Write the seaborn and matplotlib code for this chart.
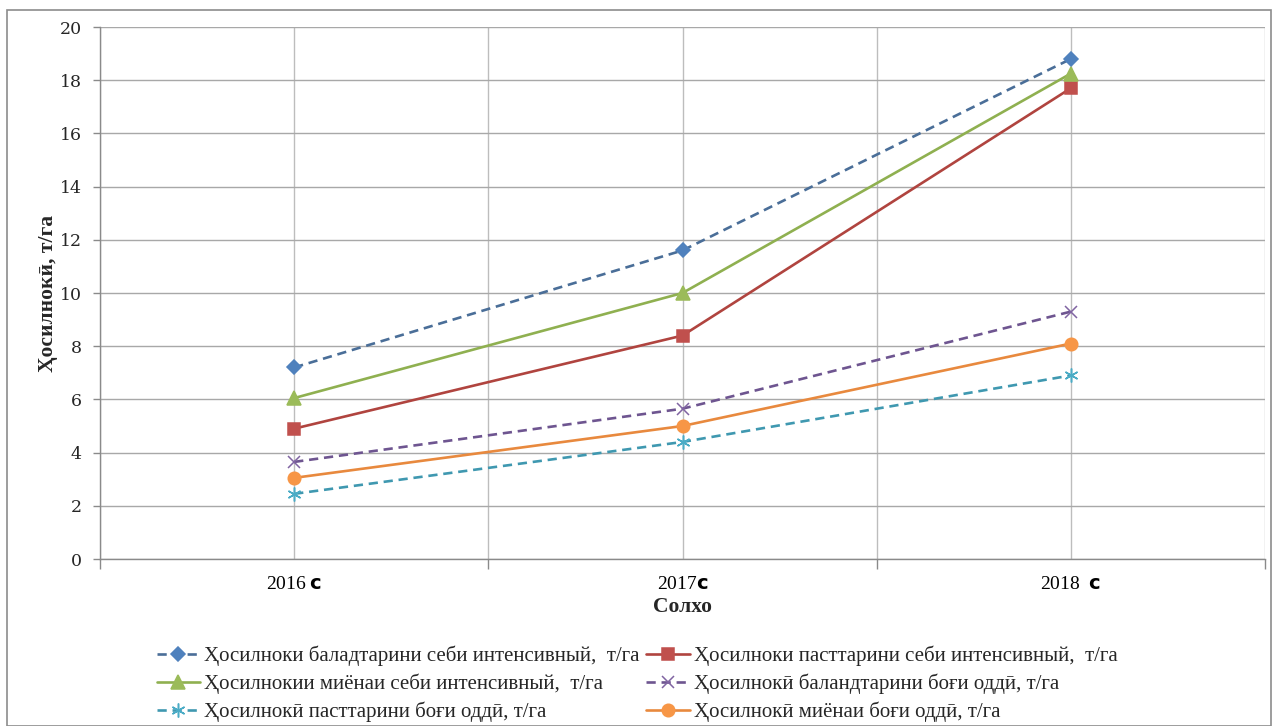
import matplotlib
matplotlib.use("Agg")
import matplotlib.pyplot as plt
from matplotlib.patches import Rectangle
from matplotlib.ticker import FixedLocator, MultipleLocator
import seaborn as sns
import pandas as pd

years = ["2016 $\\mathbf{с}$", "2017$\\mathbf{с}$", "2018  $\\mathbf{с}$"]
series_names = [
    "Ҳосилноки баладтарини себи интенсивный,  т/га",
    "Ҳосилноки пасттарини себи интенсивный,  т/га",
    "Ҳосилнокии миёнаи себи интенсивный,  т/га",
    "Ҳосилнокӣ баландтарини боғи оддӣ, т/га",
    "Ҳосилнокӣ пасттарини боғи оддӣ, т/га",
    "Ҳосилнокӣ миёнаи боғи оддӣ, т/га",
]
high_intensive = [7.2, 11.6, 18.8]
low_intensive = [4.9, 8.4, 17.7]
mid_intensive = [6.05, 10.0, 18.25]
high_simple = [3.65, 5.65, 9.3]
low_simple = [2.45, 4.4, 6.9]
mid_simple = [3.05, 5.0, 8.1]
all_values = [high_intensive, low_intensive, mid_intensive, high_simple, low_simple, mid_simple]

colors = ["#4F81BD", "#C0504D", "#9BBB59", "#8064A2", "#4BACC6", "#F79646"]
line_colors = ["#4A6E98", "#B0443F", "#8FB050", "#6E5590", "#3F98B0", "#E8893E"]
markers = ["D", "s", "^", "x", (6, 2, 0), "o"]
msizes = [7, 9, 10, 9, 10, 9]
dashed = [True, False, False, True, True, False]

rows = []
for name, vals in zip(series_names, all_values):
    for i, v in enumerate(vals):
        rows.append({"pos": i, "value": v, "series": name})
df = pd.DataFrame(rows)

sns.set_theme(style="white")
plt.rcParams["font.family"] = ["Liberation Serif", "DejaVu Serif"]
plt.rcParams["mathtext.fontset"] = "dejavusans"

fig = plt.figure(figsize=(12.75, 7.26), dpi=100)
ax = fig.add_axes([100 / 1275, 1 - 559 / 726, 1165 / 1275, (559 - 27) / 726])

handles = []
for k, name in enumerate(series_names):
    sub = df[df["series"] == name]
    sns.lineplot(data=sub, x="pos", y="value", ax=ax, color=line_colors[k],
                 linewidth=1.9, legend=False)
    ln = ax.lines[-1]
    if dashed[k]:
        ln.set_dashes((3.5, 2.2))
    ln.set_marker(markers[k])
    ln.set_markersize(msizes[k])
    ln.set_markerfacecolor(colors[k])
    ln.set_markeredgecolor(colors[k])
    ln.set_markeredgewidth(1.1)
    ln.set_zorder(3)
    handles.append(ln)

ax.set_xlim(-0.5, 2.5)
ax.set_ylim(0, 20)
ax.yaxis.set_major_locator(MultipleLocator(2))
ax.xaxis.set_major_locator(FixedLocator([0, 1, 2]))
ax.xaxis.set_minor_locator(FixedLocator([-0.5, 0.5, 1.5, 2.5]))
ax.set_xticklabels(years)
ax.grid(True, which="both", axis="x", color="#BDBDBD", linewidth=1.0)
ax.grid(True, which="major", axis="y", color="#A8A8A8", linewidth=1.0)
ax.set_axisbelow(True)

for side in ["top", "right"]:
    ax.spines[side].set_visible(False)
for side in ["left", "bottom"]:
    ax.spines[side].set_color("#8A8A8A")
    ax.spines[side].set_linewidth(1.0)

ax.tick_params(axis="x", which="major", length=0, pad=12, labelsize=14, colors="black")
ax.tick_params(axis="x", which="minor", length=7, width=1, color="#8A8A8A", direction="out", bottom=True)
ax.tick_params(axis="y", which="major", length=5, width=1, color="#8A8A8A", direction="out",
               left=True, pad=8, labelsize=12.5)
for lbl in ax.get_yticklabels():
    lbl.set_color("#262626")
    lbl.set_family(["DejaVu Serif"])

ax.set_xlabel("Солхо", fontsize=15.5, fontweight="bold", labelpad=3)
ax.set_ylabel("Ҳосилнокӣ, т/га", fontsize=15.5, fontweight="bold", labelpad=1)

order = [0, 2, 4, 1, 3, 5]
fig.legend([handles[i] for i in order], [series_names[i] for i in order],
           ncol=2, loc="center", bbox_to_anchor=(0.4998, 0.058), frameon=False,
           fontsize=15, handlelength=2.1, handletextpad=0.2, columnspacing=0.3,
           labelspacing=0.36)

fig.patches.append(Rectangle((7 / 1275, 0.0), 1264 / 1275, 1 - 10 / 726,
                             transform=fig.transFigure, fill=False,
                             edgecolor="#8C8C8C", linewidth=1.2))

fig.savefig("out.png", dpi=100, facecolor="white")
